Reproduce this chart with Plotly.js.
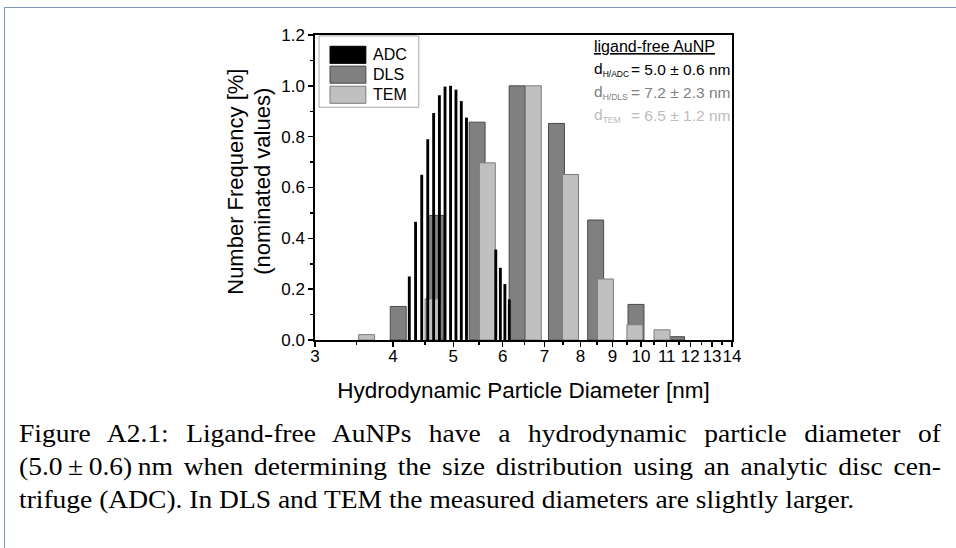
<!DOCTYPE html>
<html>
<head>
<meta charset="utf-8">
<script src="https://cdn.plot.ly/plotly-3.0.1.min.js"></script>
<style>
  html, body { margin: 0; padding: 0; background: #fff; }
  #wrap { position: relative; width: 956px; height: 548px; overflow: hidden; background: #fff; }
  #chart { position: absolute; left: 0; top: 0; width: 956px; height: 548px; }
  #frame { position: absolute; left: 4px; top: 7px; width: 2000px; height: 2000px;
           border-left: 1px solid #8096b6; border-top: 1px solid #8096b6; pointer-events: none; }
  #caption { position: absolute; left: 19px; top: 417px; width: 838px;
             transform: scaleX(1.1); transform-origin: 0 0;
             font-family: 'Liberation Serif', 'Times New Roman', serif; font-size: 25px;
             line-height: 33px; color: #000; }
  #caption .j { text-align: justify; text-align-last: justify; white-space: nowrap; }
  #caption .l { text-align: left; white-space: nowrap; }
</style>
</head>
<body>
<div id="wrap">
  <div id="chart"></div>
  <div id="caption">
    <div class="j">Figure A2.1: Ligand-free AuNPs have a hydrodynamic particle diameter of</div>
    <div class="j">(5.0&#8239;±&#8239;0.6)&#8239;nm when determining the size distribution using an analytic disc cen-</div>
    <div class="l">trifuge (ADC). In DLS and TEM the measured diameters are slightly larger.</div>
  </div>
  <div id="frame"></div>
</div>
<script>
// Size distributions of ligand-free AuNPs (normalised number frequency)
const adcDiameter = [4.25, 4.35, 4.45, 4.55, 4.65, 4.75, 4.85, 4.95, 5.05, 5.15, 5.25,
                     5.85, 5.95, 6.05, 6.15];
const adcFrequency = [0.25, 0.465, 0.65, 0.79, 0.893, 0.963, 0.997, 1.0, 0.985, 0.94, 0.875,
                      0.356, 0.284, 0.22, 0.16];

const dlsDiameter = [4.08, 4.69, 5.46, 6.33, 7.32, 8.46, 9.82, 11.41];
const dlsFrequency = [0.132, 0.49, 0.857, 1.0, 0.852, 0.472, 0.14, 0.013];

const temDiameter = [3.63, 4.64, 5.67, 6.72, 7.71, 8.77, 9.78, 10.81];
const temFrequency = [0.021, 0.162, 0.697, 1.0, 0.651, 0.24, 0.06, 0.04];

const seriesNames = ['ADC', 'DLS', 'TEM'];
const xTicks = [3, 4, 5, 6, 7, 8, 9, 10, 11, 12, 13, 14];
const xMinorTicks = [3.5, 4.5, 5.5, 6.5, 7.5, 8.5, 9.5, 10.5, 11.5, 12.5, 13.5];
const yTicks = [0, 0.2, 0.4, 0.6, 0.8, 1.0, 1.2];
const yMinorTicks = [0.1, 0.3, 0.5, 0.7, 0.9, 1.1];

const yTitleLines = ['Number Frequency [%]', '(nominated values)'];
const sizeLabels = [
  { sub: 'H/ADC', text: '= 5.0 ± 0.6 nm' },
  { sub: 'H/DLS', text: '= 7.2 ± 2.3 nm' },
  { sub: 'TEM',   text: '= 6.5 ± 1.2 nm' }
];

// Colours
const ADC_FILL = '#000000';
const DLS_FILL = '#808080', DLS_EDGE = '#4a4a4a';
const TEM_FILL = '#c0c0c0', TEM_EDGE = '#7c7c7c';
const TEXT_COLOURS = ['#000000', '#808080', '#bcbcbc'];

// Bars keep a constant on-screen width on the log axis: half-width given in decades
const WIDE_HALF = 0.0128;
const NARROW_HALF = 0.0023;
function logBar(centers, half) {
  const f = Math.pow(10, half);
  return {
    offset: centers.map(c => c / f - c),
    width: centers.map(c => c * f - c / f)
  };
}

const dlsGeom = logBar(dlsDiameter, WIDE_HALF);
const temGeom = logBar(temDiameter, WIDE_HALF);
const adcGeom = logBar(adcDiameter, NARROW_HALF);

const traces = [
  { type: 'bar', name: seriesNames[1], x: dlsDiameter, y: dlsFrequency,
    offset: dlsGeom.offset, width: dlsGeom.width,
    marker: { color: DLS_FILL, line: { color: DLS_EDGE, width: 1 } } },
  { type: 'bar', name: seriesNames[2], x: temDiameter, y: temFrequency,
    offset: temGeom.offset, width: temGeom.width,
    marker: { color: TEM_FILL, line: { color: TEM_EDGE, width: 1 } } },
  { type: 'bar', name: seriesNames[0], x: adcDiameter, y: adcFrequency,
    offset: adcGeom.offset, width: adcGeom.width,
    marker: { color: ADC_FILL, line: { width: 0 } } }
];

// Legend drawn as a boxed key with wide swatches
const legendSwatch = [
  { fill: ADC_FILL, edge: ADC_FILL },
  { fill: DLS_FILL, edge: DLS_EDGE },
  { fill: TEM_FILL, edge: TEM_EDGE }
];
const shapes = [
  { type: 'rect', xref: 'paper', yref: 'paper', x0: 0.0096, x1: 0.249, y0: 0.763, y1: 0.997,
    line: { color: '#a8a8a8', width: 1 }, fillcolor: 'rgba(255,255,255,0)' }
];
const annotations = [];
const rowY = [0.935, 0.870, 0.804];
seriesNames.forEach((name, i) => {
  shapes.push({ type: 'rect', xref: 'paper', yref: 'paper', x0: 0.036, x1: 0.122,
    y0: rowY[i] - 0.028, y1: rowY[i] + 0.028,
    line: { color: legendSwatch[i].edge, width: 1 }, fillcolor: legendSwatch[i].fill });
  annotations.push({ xref: 'paper', yref: 'paper', x: 0.134, y: rowY[i], xanchor: 'left',
    yanchor: 'middle', text: name, showarrow: false, font: { size: 16, color: '#000' } });
});

// Mean diameters
annotations.push({ xref: 'paper', yref: 'paper', x: 0.665, y: 0.962, xanchor: 'left',
  yanchor: 'middle', text: '<u>ligand-free AuNP</u>', showarrow: false,
  font: { size: 16, color: '#000' } });
const statY = [0.886, 0.810, 0.737];
sizeLabels.forEach((s, i) => {
  annotations.push({ xref: 'paper', yref: 'paper', x: 0.665, y: statY[i], xanchor: 'left',
    yanchor: 'middle', showarrow: false,
    text: 'd<sub><span style="font-size:8.5px">' + s.sub + '</span></sub>',
    font: { size: 15.5, color: TEXT_COLOURS[i] } });
  annotations.push({ xref: 'paper', yref: 'paper', x: 0.753, y: statY[i], xanchor: 'left',
    yanchor: 'middle', text: s.text, showarrow: false,
    font: { size: 15.5, color: TEXT_COLOURS[i] } });
});

// Two-line y-axis title
const yTitleX = [-0.191, -0.126];
yTitleLines.forEach((t, i) => {
  annotations.push({ xref: 'paper', yref: 'paper', x: yTitleX[i], y: 0.52,
    xanchor: 'center', yanchor: 'middle', textangle: -90, text: t, showarrow: false,
    font: { size: 22, color: '#000' } });
});

const axisCommon = {
  showline: true, linewidth: 1.6, linecolor: '#000', mirror: true,
  showgrid: false, zeroline: false, ticks: 'outside', ticklen: 5, tickwidth: 1.5,
  tickcolor: '#000', tickfont: { size: 17, color: '#000' }, tickangle: 0
};

const layout = {
  width: 956, height: 548,
  margin: { l: 315, r: 224, t: 35, b: 208 },
  paper_bgcolor: 'rgba(0,0,0,0)', plot_bgcolor: 'rgba(0,0,0,0)',
  font: { family: 'Liberation Sans, Arial, sans-serif', color: '#000' },
  showlegend: false, barmode: 'overlay',
  xaxis: Object.assign({}, axisCommon, {
    type: 'log', range: [Math.log10(3), Math.log10(14)],
    tickmode: 'array', tickvals: xTicks, ticktext: xTicks.map(String),
    ticklabelstandoff: -5,
    minor: { tickmode: 'array', tickvals: xMinorTicks, ticks: 'outside', ticklen: 3,
             tickwidth: 1.5, tickcolor: '#000', showgrid: false },
    title: { text: 'Hydrodynamic Particle Diameter [nm]', font: { size: 22.5 }, standoff: 17 }
  }),
  yaxis: Object.assign({}, axisCommon, {
    range: [0, 1.2], tickmode: 'array', tickvals: yTicks,
    ticktext: yTicks.map(v => v.toFixed(1)),
    minor: { tickmode: 'array', tickvals: yMinorTicks, ticks: 'outside', ticklen: 3,
             tickwidth: 1.5, tickcolor: '#000', showgrid: false }
  }),
  shapes: shapes,
  annotations: annotations
};

Plotly.newPlot('chart', traces, layout, { staticPlot: true, displayModeBar: false });
</script>
</body>
</html>
